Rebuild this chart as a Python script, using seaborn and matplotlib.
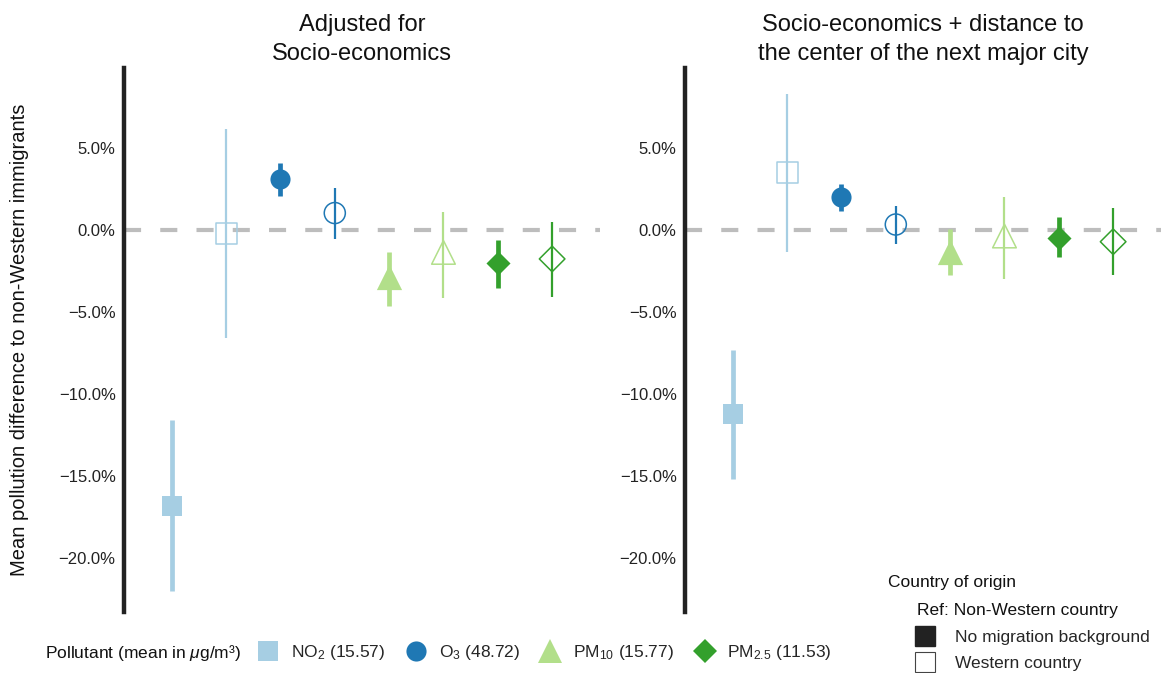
import numpy as np
import pandas as pd
import matplotlib
matplotlib.use("Agg")
import matplotlib.pyplot as plt
from matplotlib.lines import Line2D
import seaborn as sns

# Pollutants and the two origin groups (reference: non-Western immigrants)
pollutants = ["NO2", "O3", "PM10", "PM2.5"]
pollutant_means = ["15.57", "48.72", "15.77", "11.53"]
origins = ["No migration background", "Western country"]
panel_titles = ["Adjusted for\nSocio-economics",
                "Socio-economics + distance to\nthe center of the next major city"]

# Panel 1: adjusted for socio-economics (percent difference, 95% CI)
p1_nomig_est = [-16.8, 3.1, -2.85, -2.0]
p1_nomig_lo = [-22.0, 2.1, -4.6, -3.5]
p1_nomig_hi = [-11.6, 4.1, -1.3, -0.6]
p1_west_est = [-0.2, 1.05, -1.35, -1.75]
p1_west_lo = [-6.6, -0.55, -4.15, -4.1]
p1_west_hi = [6.2, 2.6, 1.1, 0.5]

# Panel 2: socio-economics + distance to city center
p2_nomig_est = [-11.2, 2.05, -1.3, -0.45]
p2_nomig_lo = [-15.2, 1.2, -2.75, -1.65]
p2_nomig_hi = [-7.3, 2.85, 0.05, 0.8]
p2_west_est = [3.5, 0.35, -0.35, -0.7]
p2_west_lo = [-1.35, -0.85, -3.0, -2.75]
p2_west_hi = [8.3, 1.5, 2.05, 1.35]

yticks = [5, 0, -5, -10, -15, -20]


def panel_frame(nomig_est, nomig_lo, nomig_hi, west_est, west_lo, west_hi):
    rows = []
    for i, p in enumerate(pollutants):
        rows.append(dict(pollutant=p, origin=origins[0], pos=2 * i,
                         est=nomig_est[i], lo=nomig_lo[i], hi=nomig_hi[i]))
        rows.append(dict(pollutant=p, origin=origins[1], pos=2 * i + 1,
                         est=west_est[i], lo=west_lo[i], hi=west_hi[i]))
    return pd.DataFrame(rows)


frames = [
    panel_frame(p1_nomig_est, p1_nomig_lo, p1_nomig_hi, p1_west_est, p1_west_lo, p1_west_hi),
    panel_frame(p2_nomig_est, p2_nomig_lo, p2_nomig_hi, p2_west_est, p2_west_lo, p2_west_hi),
]

sns.set_theme(style="white")
plt.rcParams["font.family"] = ["Liberation Sans", "DejaVu Sans"]
plt.rcParams["mathtext.fontset"] = "custom"
plt.rcParams["mathtext.rm"] = "Liberation Sans"
plt.rcParams["mathtext.it"] = "Liberation Sans:italic"
plt.rcParams["axes.unicode_minus"] = True

paired = sns.color_palette("Paired")
colors = dict(zip(pollutants, [paired[0], paired[1], paired[2], paired[3]]))
markers = dict(zip(pollutants, ["s", "o", "^", "D"]))
# marker areas (pt^2) for filled / hollow markers
sizes_filled = dict(zip(pollutants, [210, 210, 330, 150]))
sizes_hollow = dict(zip(pollutants, [230, 230, 290, 170]))

fig = plt.figure(figsize=(11.62, 6.73), dpi=100)
ax_w, ax_h, ax_b = 0.4096, 0.8083, 0.0906
axes = [fig.add_axes([0.1067, ax_b, ax_w, ax_h]),
        fig.add_axes([0.5895, ax_b, ax_w, ax_h])]

for ax, df, title in zip(axes, frames, panel_titles):
    ax.axhline(0, color="#bdbdbd", lw=3, dashes=(4.1, 4.6), zorder=1)
    for _, r in df.iterrows():
        filled = r["origin"] == origins[0]
        c = colors[r["pollutant"]]
        ax.vlines(r["pos"], r["lo"], r["hi"], color=c,
                  lw=3.4 if filled else 1.6, zorder=2)
        sub = df[(df["pollutant"] == r["pollutant"]) & (df["origin"] == r["origin"])]
        n_before = len(ax.collections)
        sns.scatterplot(data=sub, x="pos", y="est", ax=ax, color=c,
                        marker=markers[r["pollutant"]],
                        s=sizes_filled[r["pollutant"]] if filled else sizes_hollow[r["pollutant"]],
                        linewidth=0 if filled else 1.1, legend=False, zorder=3)
        coll = ax.collections[n_before]
        if not filled:
            coll.set_facecolor("none")
            coll.set_edgecolor(c)
    ax.set_xlim(-0.88, 7.88)
    ax.set_ylim(-23.3, 9.9)
    ax.set_yticks(yticks)
    ax.set_yticklabels([f"{v:.1f}%".replace("-", "\u2212") for v in yticks])
    ax.tick_params(axis="y", length=0, pad=6, labelsize=12, labelcolor="#222222")
    ax.set_xticks([])
    ax.set_xlabel("")
    ax.set_ylabel("")
    for side in ["top", "right", "bottom"]:
        ax.spines[side].set_visible(False)
    ax.spines["left"].set_linewidth(3.2)
    ax.spines["left"].set_color("#222222")
    ax.set_title(title, fontsize=17, linespacing=1.42, pad=6, color="#111111")

axes[0].set_ylabel("Mean pollution difference to non-Western immigrants",
                   fontsize=14.5, labelpad=21, color="#111111")

# Pollutant legend along the bottom
fig.text(45 / 1162, 1 - 653 / 673, "Pollutant (mean in $\\mu$g/m\u00b3)",
         fontsize=12.5, va="center", ha="left", color="#111111")
sub_names = ["NO$_2$", "O$_3$", "PM$_{10}$", "PM$_{2.5}$"]
handles = [Line2D([], [], ls="none", marker=markers[p], color=colors[p],
                  markersize=ms, markeredgewidth=0)
               for p, ms in zip(pollutants, [14.5, 14.5, 17, 12])]
labels = [f"{n} ({m})" for n, m in zip(sub_names, pollutant_means)]
fig.legend(handles, labels, ncol=4, loc="center left",
           bbox_to_anchor=(258 / 1162, 1 - 653 / 673), frameon=False,
           fontsize=12.5, handlelength=1.2, handletextpad=0.72,
           columnspacing=1.15, borderaxespad=0, borderpad=0)

# Country-of-origin legend
fig.text(888 / 1162, 1 - 582 / 673, "Country of origin", fontsize=12.5,
         va="center", ha="left", color="#111111")
fig.text(917 / 1162, 1 - 610 / 673, "Ref: Non-Western country", fontsize=12.5,
         va="center", ha="left", color="#111111")
c_handles = [Line2D([], [], ls="none", marker="s", markersize=14,
                    markerfacecolor="#222222", markeredgecolor="#222222"),
             Line2D([], [], ls="none", marker="s", markersize=14,
                    markerfacecolor="white", markeredgecolor="#444444",
                    markeredgewidth=0.8)]
fig.legend(c_handles, origins, loc="upper left",
           bbox_to_anchor=(915 / 1162, 1 - 630 / 673), frameon=False,
           fontsize=12.5, handlelength=1.2, handletextpad=1.1,
           labelspacing=0.62, borderaxespad=0, borderpad=0)

fig.savefig("out.png", dpi=100)
